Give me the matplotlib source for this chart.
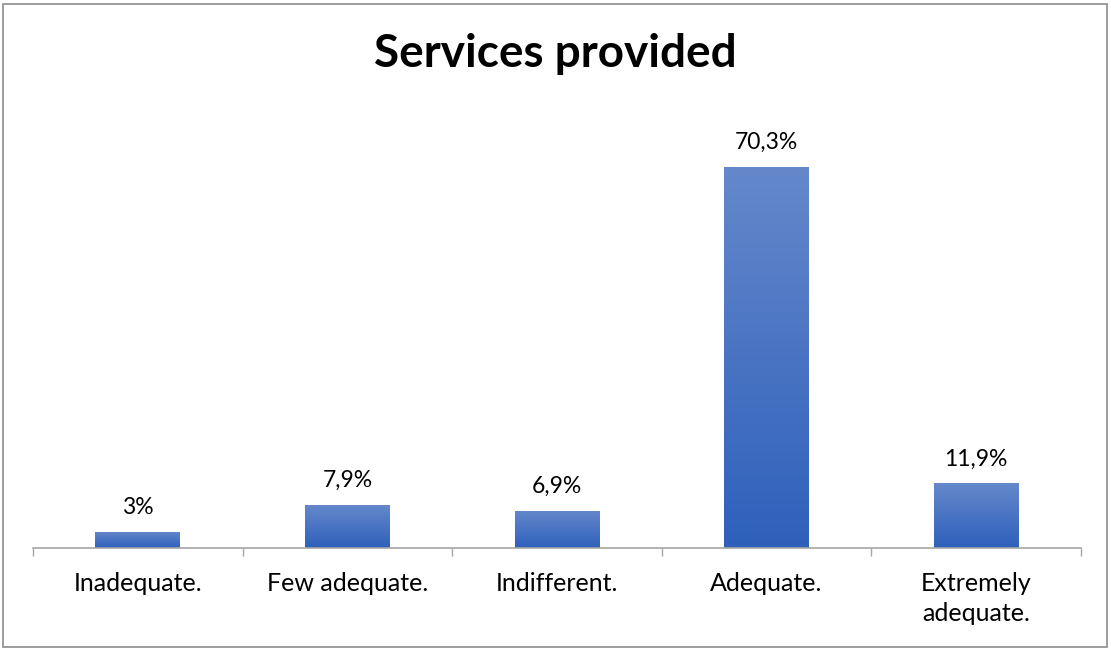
import matplotlib.pyplot as plt
import numpy as np
from matplotlib.colors import LinearSegmentedColormap
from matplotlib.patches import Rectangle

plt.rcParams['font.family'] = ['Lato', 'DejaVu Sans']

# survey answers and their shares (percent)
categories = ['Inadequate.', 'Few adequate.', 'Indifferent.', 'Adequate.', 'Extremely\nadequate.']
values = [3.0, 7.9, 6.9, 70.3, 11.9]
value_labels = ['3%', '7,9%', '6,9%', '70,3%', '11,9%']

W, H = 1111, 650
fig = plt.figure(figsize=(W / 100, H / 100), dpi=100)

# thin grey frame round the whole chart
fig.patches.append(Rectangle((3 / W, 3 / H), 1104 / W, 643 / H, transform=fig.transFigure,
                             fill=False, edgecolor='#8c8c8c', linewidth=1.2))

ax = fig.add_axes([33 / W, (H - 548) / H, 1048 / W, 434 / H])
x = np.arange(len(categories))
bars = ax.bar(x, values, width=0.405, color='none', edgecolor='none')

# vertical gradient inside each bar, lighter at the top
grad = LinearSegmentedColormap.from_list('g', ['#2e60bb', '#6588cb'])
g = np.linspace(0, 1, 256).reshape(-1, 1)
for b in bars:
    x0, y0 = b.get_x(), b.get_y()
    im = ax.imshow(g, cmap=grad, origin='lower', aspect='auto',
                   extent=(x0, x0 + b.get_width(), y0, y0 + b.get_height()), zorder=2)
    im.set_clip_path(b)

for xi, v, lab in zip(x, values, value_labels):
    ax.annotate(lab, (xi, v), xytext=(0, 18), textcoords='offset pixels',
                ha='center', va='baseline', fontsize=16.5, color='#000000')

ax.set_xlim(-0.5, len(categories) - 0.5)
ax.set_ylim(0, 80)

ax.set_xticks(np.arange(len(categories) + 1) - 0.5)
ax.set_xticklabels([])
ax.tick_params(axis='x', which='major', length=6, color='#a6a6a6', width=1)
ax.set_xticks(x, minor=True)
ax.set_xticklabels(categories, minor=True, fontsize=18, linespacing=1.4, va='top')
ax.tick_params(axis='x', which='minor', length=0, pad=17)
ax.set_yticks([])

for s in ['top', 'right', 'left']:
    ax.spines[s].set_visible(False)
ax.spines['bottom'].set_color('#a6a6a6')
ax.spines['bottom'].set_linewidth(1.2)

fig.text(0.5, 1 - 67 / H, 'Services provided', ha='center', va='baseline',
         fontsize=33, fontweight='bold')

fig.savefig('out.png', dpi=100)
